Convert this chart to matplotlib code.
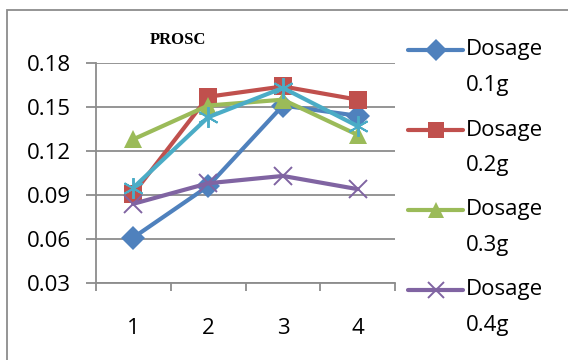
import matplotlib.pyplot as plt
from matplotlib.lines import Line2D
from matplotlib.patches import Rectangle

# PROSC readings at four sampling points for each dosage
points = [1, 2, 3, 4]
dose_01 = [0.061, 0.096, 0.151, 0.144]
dose_02 = [0.091, 0.157, 0.164, 0.155]
dose_03 = [0.128, 0.151, 0.155, 0.131]
dose_04 = [0.084, 0.098, 0.103, 0.094]
extra = [0.095, 0.143, 0.163, 0.137]
yticks = [0.03, 0.06, 0.09, 0.12, 0.15, 0.18]

plt.rcParams['font.family'] = ['Open Sans', 'DejaVu Sans']

W, H = 568, 360
fig = plt.figure(figsize=(W / 100, H / 100), dpi=100)
ax = fig.add_axes([96 / W, 1 - 283 / H, 299 / W, 220 / H])

# outer chart frame
fig.patches.append(Rectangle((7 / W, -0.05), 1.0, 1 - 10 / H + 0.05,
                             transform=fig.transFigure, fill=False,
                             edgecolor='#8c8c8c', lw=1.3))

# (values, colour, marker, plot size, legend size, label)
series = [
    (dose_01, '#4F81BD', 'D', 12.5, 11, 'Dosage\n0.1g'),
    (dose_02, '#C0504D', 's', 13, 12, 'Dosage\n0.2g'),
    (dose_03, '#9BBB59', '^', 13.5, 12, 'Dosage\n0.3g'),
    (extra, '#4BACC6', (6, 2, 0), 15, 13, None),
    (dose_04, '#8064A2', 'x', 12.5, 12, 'Dosage\n0.4g'),
]
entries = []
for vals, col, mk, ms, lms, lab in series:
    mew = 1.4 if mk == 'x' or isinstance(mk, tuple) else 0
    ax.plot(points, vals, color=col, lw=3, marker=mk, ms=ms,
            mfc=col, mec=col, mew=mew, solid_capstyle='round')
    if lab:
        entries.append((col, mk, lms, mew, lab))

ax.set_xlim(0.5, 4.5)
ax.set_ylim(0.03, 0.18)
ax.set_yticks(yticks)
ax.set_yticklabels([f'{v:.2f}' for v in yticks])
ax.set_xticks([0.5, 1.5, 2.5, 3.5, 4.5], minor=False)
ax.set_xticklabels([])
ax.set_xticks(points, minor=True)
ax.set_xticklabels([str(p) for p in points], minor=True)
ax.tick_params(axis='x', which='minor', length=0, pad=25, labelsize=16)
ax.tick_params(axis='x', which='major', length=6, color='#8c8c8c', width=1.3, direction='out')
ax.tick_params(axis='y', length=7, color='#8c8c8c', width=1.3, labelsize=16, pad=11)
ax.grid(axis='y', color='#8c8c8c', lw=1.3)
ax.set_axisbelow(True)
for side in ('top', 'right'):
    ax.spines[side].set_visible(False)
for side in ('left', 'bottom'):
    ax.spines[side].set_color('#8c8c8c')
    ax.spines[side].set_linewidth(1.3)

fig.text(178 / W, 1 - 40 / H, 'PROSC', ha='center', va='center',
         fontsize=12, fontweight='bold', family='Liberation Serif')

# legend drawn by hand so the two-line labels get Excel-like spacing
for i, (col, mk, ms, mew, lab) in enumerate(entries):
    y = 1 - (50 + 80 * i) / H
    fig.add_artist(Line2D([408 / W, 463 / W], [y, y], transform=fig.transFigure,
                          color=col, lw=3, solid_capstyle='round'))
    fig.add_artist(Line2D([435.5 / W], [y], transform=fig.transFigure,
                          marker=mk, ms=ms, mfc=col, mec=col, mew=mew, ls='none'))
    fig.text(466 / W, y, lab.split('\n')[0], ha='left', va='center', fontsize=16)
    fig.text(466 / W, y - 35 / H, lab.split('\n')[1], ha='left', va='center', fontsize=16)

fig.savefig('out.png', dpi=100)
